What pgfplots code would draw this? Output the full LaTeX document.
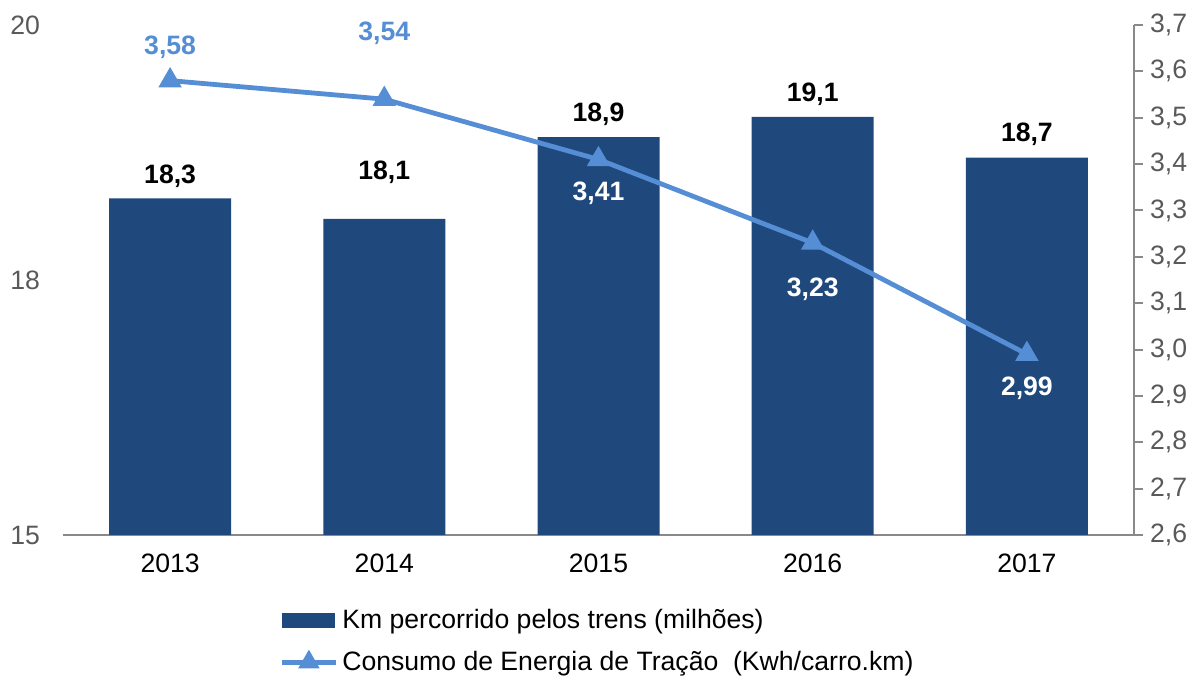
\documentclass[border=0pt]{standalone}
\usepackage{pgfplots}
\pgfplotsset{compat=1.18}
\usepackage{pgfplotstable}
\usepackage{fontspec}
\setmainfont{Liberation Sans}

\definecolor{barblue}{HTML}{1F497D}
\definecolor{lineblue}{HTML}{558ED5}
\definecolor{axisgray}{HTML}{898989}
\definecolor{labelgray}{HTML}{595959}

% km percorrido (milhões); off = posição do rótulo acima da barra (pt)
\pgfplotstableread{
x y off
0 18.3 11
1 18.1 23.5
2 18.9 11.5
3 19.1 11.5
4 18.7 11.5
}\kmdata

% consumo de energia de tração (Kwh/carro.km)
\pgfplotstableread{
x y off
0 3.58 16.5
1 3.54 33
2 3.41 -17
3 3.23 -23
4 2.99 -17
}\energia

\newcommand\lblfont{\fontsize{13.3}{16}\selectfont\bfseries}

\pgfplotsset{
  lineleg/.style={legend image code/.code={\draw[mark repeat=2,mark phase=2,mark size=3.8pt,##1] plot coordinates {(0pt,0pt) (13.5pt,0pt) (27pt,0pt)};}},
  barleg/.style={legend image code/.code={\fill[barblue] (0pt,-3.5pt) rectangle (26pt,3.5pt);}},
}

\begin{document}
\begin{tikzpicture}[font=\fontsize{13.3}{16}\selectfont]
\pgfplotsset{
  every axis/.append style={
    width=535.5pt, height=255pt, scale only axis,
    xmin=-0.5, xmax=4.5,
    /pgf/number format/assume math mode=true,
    /pgf/number format/use comma,
  },
}
\begin{axis}[
  ymin=15, ymax=20,
  ytick={15,17.5,20}, yticklabels={15,18,20},
  xtick={0,1,2,3,4}, xticklabels={2013,2014,2015,2016,2017},
  axis x line*=bottom, axis y line*=left,
  x axis line style={-, draw=axisgray, line width=1pt},
  y axis line style={draw=none},
  tick style={draw=none},
  yticklabel style={text=labelgray, xshift=-8pt},
  xticklabel style={text=black, yshift=-6pt},
]
\addplot[ybar, bar width=61pt, fill=barblue, draw=none,
  nodes near coords={\pgfmathprintnumber[fixed,fixed zerofill,precision=1]{\pgfplotspointmeta}},
  visualization depends on={\thisrow{off} \as \off},
  every node near coord/.append style={anchor=center, yshift=\off pt, font=\lblfont, text=black},
] table[x=x,y=y] {\kmdata};
\end{axis}

\begin{axis}[
  ymin=2.6, ymax=3.7,
  ytick={2.6,2.7,2.8,2.9,3.0,3.1,3.2,3.3,3.4,3.5,3.6,3.7},
  axis y line*=right, axis x line=none,
  y axis line style={-, draw=axisgray, line width=1pt},
  ytick style={draw=axisgray, line width=1pt},
  tick align=outside, major tick length=4.5pt,
  yticklabel style={text=labelgray, /pgf/number format/.cd, fixed, fixed zerofill, precision=1},
  legend style={at={(0.5,-0.13)}, anchor=north, draw=none, fill=none,
    legend columns=1, row sep=5.5pt},
  legend cell align=left,
]
\addlegendimage{barblue, barleg}
\addlegendentry{Km percorrido pelos trens (milhões)}
\addplot[lineblue, line width=2.4pt, mark=triangle*, mark size=4.4pt, lineleg] table[x=x,y=y] {\energia};
\addlegendentry{Consumo de Energia de Tração\ \ (Kwh/carro.km)}
\addplot[only marks, mark=none, forget plot, skip coords between index={2}{5},
  nodes near coords={\pgfmathprintnumber[fixed,fixed zerofill,precision=2]{\pgfplotspointmeta}},
  visualization depends on={\thisrow{off} \as \off},
  every node near coord/.append style={anchor=center, yshift=\off pt, font=\lblfont, text=lineblue},
] table[x=x,y=y] {\energia};
\addplot[only marks, mark=none, forget plot, skip coords between index={0}{2},
  nodes near coords={\pgfmathprintnumber[fixed,fixed zerofill,precision=2]{\pgfplotspointmeta}},
  visualization depends on={\thisrow{off} \as \off},
  every node near coord/.append style={anchor=center, yshift=\off pt, font=\lblfont, text=white},
] table[x=x,y=y] {\energia};
\end{axis}
\path (-31.5pt,-72pt) rectangle (566.5pt,267.5pt);
\end{tikzpicture}
\end{document}
